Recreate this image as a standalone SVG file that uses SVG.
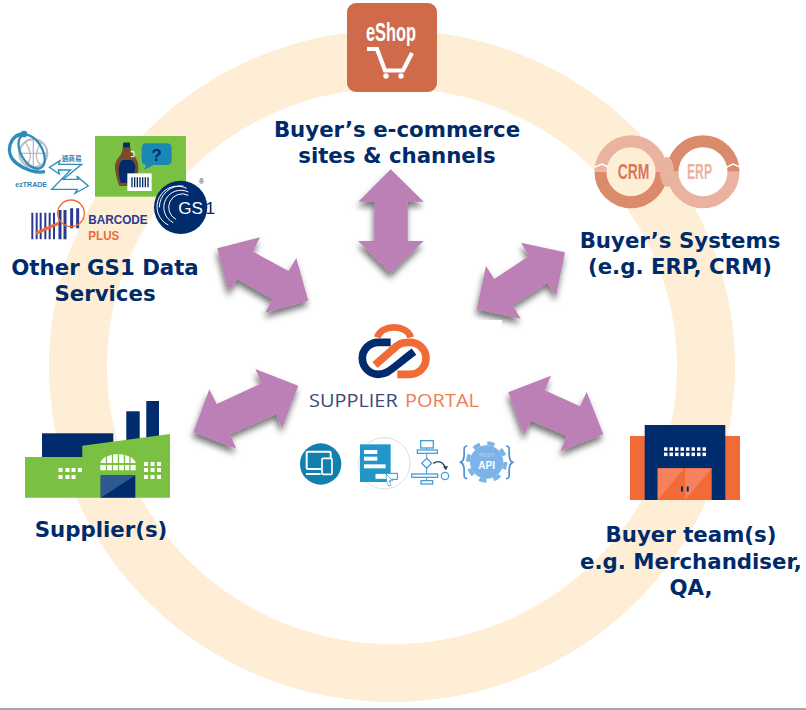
<svg xmlns="http://www.w3.org/2000/svg" width="806" height="710" viewBox="0 0 806 710">
<style>
.lbl{font-family:"DejaVu Sans",Verdana,sans-serif;font-weight:700;font-size:21.3px;fill:#002b6b;text-anchor:middle}
.arrow{fill:#bc7fb6;filter:url(#sh)}
.cond{font-family:"Liberation Sans Narrow","Liberation Sans",sans-serif;font-weight:700}
.sans{font-family:"Liberation Sans",Arial,sans-serif}
.portal{font-family:"Open Sans",sans-serif;font-weight:400;font-size:18px}
.w{fill:#fff}
.navy{fill:#002b6c}
.fl{fill:none;stroke:#4a9fd6;stroke-width:4}
</style>
<defs>
<filter id="sh" x="-30%" y="-30%" width="160%" height="160%"><feDropShadow dx="-1" dy="5" stdDeviation="3" flood-color="#000" flood-opacity=".55"/></filter>
</defs>
<rect width="806" height="710" fill="#fff"/>
<ellipse id="ring" cx="392" cy="366" rx="314" ry="307" fill="none" stroke="#ffeed6" stroke-width="58"/>
<g id="connectors">
<polygon class="arrow" points="390.7,169.3 423.7,201.7 407.7,201.7 407.7,241 423.7,241 390.7,273.3 358,241 374.3,241 374.3,201.7 358.3,201.7"/>
<polygon class="arrow" points="217.3,248.3 260,237.3 253,251.7 288.7,271 296.3,258 308.3,300.7 265.3,312.7 272.3,299.3 237.3,279 228.7,291.3"/>
<polygon class="arrow" points="565,252.3 521,242.7 529,256 494.3,279 486,266 476.7,309.3 520.7,318.7 512.7,305.3 547.3,283.3 556,296"/>
<polygon class="arrow" points="298.3,385.7 255.3,369 261.7,383.3 216.7,404 209.3,389.3 193.3,432.3 236.3,448.7 230,434.3 276,414.3 282,428.3"/>
<polygon class="arrow" points="508.3,392.3 551,375.7 544.7,390.3 580,406.3 586.7,392 603.3,434.3 560.3,451.3 567,436 530.7,420.7 524.3,435.3"/>
</g>
<g id="portal">
<rect x="312" y="320" width="190" height="62" fill="#fff"/>
<g transform="translate(290,310) scale(.33333)">
<path d="M262 82C272 42 352 42 362 82" fill="none" stroke="#f26a36" stroke-width="20"/>
<path d="M255 165L320 108C335 97 345 97 360 97A48 48 0 0 1 360 193L322 193" fill="none" stroke="#f26a36" stroke-width="23"/>
<path d="M302 97H265A48 48 0 0 0 265 193C295 193 305 175 372 125" fill="none" stroke="#002b6c" stroke-width="23"/>
</g>
<text x="309" y="407.3" class="portal" fill="#3a4a78" textLength="88.7" lengthAdjust="spacingAndGlyphs">SUPPLIER</text>
<text x="405" y="407.3" class="portal" fill="#ef7d55" textLength="74" lengthAdjust="spacingAndGlyphs">PORTAL</text>
<g transform="translate(290,310) scale(.33333)">
<circle cx="92" cy="462" r="62" fill="#1180ae"/>
<rect x="50" y="425" width="72" height="52" rx="4" fill="none" stroke="#fff" stroke-width="6"/>
<rect x="96" y="445" width="30" height="48" rx="3" fill="#1180ae" stroke="#fff" stroke-width="5"/>
<path d="M48 492H92" stroke="#fff" stroke-width="6"/>
<circle cx="283" cy="460" r="77" fill="#fff" stroke="#ddd" stroke-width="3"/>
<rect x="210" y="403" width="92" height="113" fill="#2196c9"/>
<rect x="222" y="420" width="40" height="12" class="w"/>
<rect x="222" y="440" width="40" height="12" class="w"/>
<rect x="222" y="463" width="65" height="12" class="w"/>
<rect x="255" y="490" width="67" height="18" fill="#fff" stroke="#2196c9" stroke-width="3"/>
<path d="M288 492L308 512L298 512L303 526L296 528L290 514Z" fill="#fff" stroke="#2196c9" stroke-width="2"/>
<path d="M410 414V512" stroke="#4a9fd6" stroke-width="3"/>
<rect x="392" y="392" width="38" height="22" fill="#fff" stroke="#4a9fd6" stroke-width="4"/>
<rect x="382" y="420" width="60" height="10" fill="#fff" stroke="#4a9fd6" stroke-width="4"/>
<polygon points="410,445 425,460 410,475 395,460" fill="#fff" stroke="#4a9fd6" stroke-width="4"/>
<rect x="365" y="492" width="78" height="10" fill="#fff" stroke="#4a9fd6" stroke-width="4"/>
<rect x="393" y="512" width="35" height="10" fill="#fff" stroke="#4a9fd6" stroke-width="4"/>
<path d="M430 460C445 450 460 455 467 476" fill="none" stroke="#2a3a50" stroke-width="4"/>
<path d="M459 470L468 481L474 468Z" fill="#2a3a50"/>
<circle cx="465" cy="498" r="11" class="fl"/>
<circle cx="590" cy="456" r="50" fill="#7db4e8"/>
<circle cx="590" cy="456" r="56" fill="none" stroke="#7db4e8" stroke-width="12" stroke-dasharray="22 22"/>
<text x="590" y="441" font-size="17" text-anchor="middle" fill="#a9cdf0" class="sans" font-weight="700">REST</text>
<text x="590" y="476" font-size="30" text-anchor="middle" fill="#fff" class="sans" font-weight="700">API</text>
<path d="M532 408C518 408 524 420 522 440C521 452 516 455 512 457C516 459 521 462 522 474C524 494 518 506 532 506M648 408C662 408 656 420 658 440C659 452 664 455 668 457C664 459 659 462 658 474C656 494 662 506 648 506" fill="none" stroke="#4a8fd6" stroke-width="5"/>
</g>
</g>
<g id="eshop">
<rect x="347" y="3" width="90" height="89" rx="9" fill="#cf6b4b"/>
<text x="366" y="41" class="cond" font-size="25" fill="#fff" textLength="50" lengthAdjust="spacingAndGlyphs">eShop</text>
<path d="M367 49H377L385 70.5H403L412 53" fill="none" stroke="#fff" stroke-width="4.2"/>
<circle cx="386" cy="76" r="2.7" class="w"/>
<circle cx="401" cy="76" r="2.7" class="w"/>
<text x="397" y="137" class="lbl">Buyer’s e-commerce</text>
<text x="397" y="163" class="lbl">sites &amp; channels</text>
</g>
<g id="systems">
<g fill="none" stroke-width="12">
<path d="M600.5 171.7A30.5 30.5 0 0 0 661.5 171.7" stroke="#dc8a6c"/>
<path d="M672.5 171.7A30.5 30.5 0 0 1 733.5 171.7" stroke="#dc8a6c"/>
<path d="M672.5 171.7A30.5 30.5 0 0 0 733.5 171.7" stroke="#e9b39f"/>
<path d="M600.5 171.7A30.5 30.5 0 0 1 661.5 171.7" stroke="#e9b39f"/>
</g>
<ellipse cx="667" cy="172" rx="7" ry="15" fill="#e9b39f"/>
<path d="M595 167L602 164L608 167M727 167L733 164L740 167" fill="none" stroke="#fff" stroke-width="1.5"/>
<text x="617.7" y="179.3" class="cond" font-size="22" fill="#d9775a" textLength="31.6" lengthAdjust="spacingAndGlyphs">CRM</text>
<text x="687" y="179.3" class="cond" font-size="22" fill="#e9b39f" textLength="25" lengthAdjust="spacingAndGlyphs">ERP</text>
<text x="680" y="248" class="lbl">Buyer’s Systems</text>
<text x="680" y="274" class="lbl">(e.g. ERP, CRM)</text>
</g>
<g id="gs1-services">
<g transform="translate(0,110) scale(.33333)">
<circle cx="100" cy="130" r="42" fill="none" stroke="#b8bcc4" stroke-width="6"/>
<path d="M60 130H140M100 88V172M75 95C95 125 95 150 78 165M125 95C105 125 105 150 122 165" fill="none" stroke="#b8bcc4" stroke-width="4"/>
<ellipse cx="95" cy="125" rx="32" ry="56" transform="rotate(-30 95 125)" fill="none" stroke="#2f8dbd" stroke-width="7"/>
<path d="M72 72C30 70 10 130 50 160C75 180 110 190 135 185" fill="none" stroke="#2f8dbd" stroke-width="10"/>
<circle cx="72" cy="72" r="10" fill="#2f8dbd"/>
<path d="M148 172L180 152L176 163L245 163L190 208L235 208L230 198L265 228L225 250L232 238L155 238L212 180L175 180L178 192Z" fill="#fff" stroke="#2f8dbd" stroke-width="4"/>
<text x="46" y="232" font-size="24" font-weight="700" fill="#2f7fae" class="sans" textLength="95" lengthAdjust="spacingAndGlyphs">ezTRADE</text>
<text x="185" y="153" font-size="20" font-weight="700" fill="#2f7fae" style="font-family:'Noto Sans CJK TC',sans-serif" textLength="60" lengthAdjust="spacingAndGlyphs">通商易</text>
<rect x="285" y="78" width="273" height="182" fill="#7ac143"/>
<path d="M425 115Q425 100 440 100H500Q515 100 515 115V150Q515 165 500 165H460L432 180L438 165Q425 162 425 150Z" fill="#1b87b5"/>
<text x="470" y="152" font-size="50" font-weight="700" text-anchor="middle" fill="#002b6c" class="sans">?</text>
<path d="M370 98H390V112H392V125C412 145 418 160 414 190L408 228H358C348 200 338 165 352 148C362 135 368 128 368 112Z" fill="#7a4a2a"/>
<path d="M368 150C355 160 352 180 362 218H400L406 170C404 160 398 150 392 150Z" fill="#002b6c"/>
<rect x="370" y="98" width="20" height="14" fill="#002b6c"/>
<path d="M392 125H402V140H392" fill="none" stroke="#fff" stroke-width="3"/>
<rect x="382" y="190" width="73" height="53" fill="#fff"/>
<path d="M396 202V232M404 202V232M412 202V232M420 202V232M428 202V232M436 202V232M444 202V232" stroke="#002b6c" stroke-width="4"/>
<circle cx="542" cy="292" r="80" fill="#002c6c"/>
<g fill="none" stroke="#fff" stroke-width="3">
<path d="M560 235A60 60 0 0 0 505 345"/>
<path d="M565 246A50 50 0 0 0 520 338"/>
<path d="M565 256A40 40 0 0 0 528 328"/>
<path d="M478 292A65 65 0 0 1 550 228"/>
</g>
<text x="535" y="312" font-size="51" fill="#fff" class="sans" textLength="74" lengthAdjust="spacingAndGlyphs">GS</text>
<text x="616" y="312" font-size="51" fill="#002c6c" class="sans" textLength="30" lengthAdjust="spacingAndGlyphs">1</text>
<text x="597" y="222" font-size="20" fill="#002c6c" class="sans">®</text>
<path d="M97 308V388M110 308V388M122 308V388M136 308V388M149 308V388M162 308V388" stroke="#2b3990" stroke-width="6"/>
<path d="M180 300V388M195 300V388M215 295V355M233 295V355" stroke="#2b3990" stroke-width="9"/>
<circle cx="213" cy="310" r="40" fill="none" stroke="#f0693a" stroke-width="4"/>
<path d="M175 340L108 370" stroke="#f0693a" stroke-width="9"/>
<text x="265" y="342" font-size="40" fill="#2b3990" class="cond" textLength="178" lengthAdjust="spacingAndGlyphs">BARCODE</text>
<text x="265" y="390" font-size="40" fill="#f0693a" class="cond" textLength="93" lengthAdjust="spacingAndGlyphs">PLUS</text>
</g>
<text x="105" y="275" class="lbl">Other GS1 Data</text>
<text x="105" y="301" class="lbl">Services</text>
</g>
<g id="supplier">
<rect x="126.3" y="411.3" width="13.4" height="30" class="navy"/>
<rect x="146.3" y="401" width="12.7" height="37" class="navy"/>
<rect x="42" y="433.3" width="71.3" height="24" class="navy"/>
<polygon points="25,457 82.3,457 82.3,445.7 170,434 170,497.7 25,497.7" fill="#7ac143"/>
<rect x="100.7" y="475.3" width="34.6" height="22.4" class="navy"/>
<polygon points="100.7,475.3 135.3,475.3 100.7,497.7" fill="#2f5a90"/>
<path d="M100.3 463A18 11 0 0 1 135.7 463Z" class="w"/>
<rect x="100.3" y="465" width="35.4" height="5.3" class="w"/>
<path d="M106.5 451V471M112.5 451V471M118.5 451V471M124.5 451V471M130 451V471" stroke="#7ac143" stroke-width="1.3"/>
<g class="w">
<rect x="58.5" y="468" width="4" height="4"/><rect x="65.5" y="468" width="4" height="4"/><rect x="71.5" y="468" width="4" height="4"/><rect x="78" y="468" width="4" height="4"/>
<rect x="58.5" y="475" width="4" height="4"/><rect x="65.5" y="475" width="4" height="4"/><rect x="71.5" y="475" width="4" height="4"/>
<rect x="144" y="462" width="4" height="4"/><rect x="150.5" y="462" width="4" height="4"/><rect x="157" y="462" width="4" height="4"/>
<rect x="144" y="468" width="4" height="4"/><rect x="150.5" y="468" width="4" height="4"/><rect x="157" y="468" width="4" height="4"/>
<rect x="144" y="475" width="4" height="4"/><rect x="150.5" y="475" width="4" height="4"/><rect x="157" y="475" width="4" height="4"/>
</g>
<text x="101" y="537" class="lbl">Supplier(s)</text>
</g>
<g id="buyer-team">
<rect x="630" y="436" width="110" height="64" fill="#f26a36"/>
<rect x="644.7" y="425" width="80.6" height="75" class="navy"/>
<rect x="657.7" y="468.3" width="54" height="31.7" fill="#f26a36"/>
<polygon points="657.7,468.3 684.3,468.3 657.7,500" fill="#f5825c"/>
<polygon points="685,468.3 711.7,468.3 685,500" fill="#f5825c"/>
<rect x="681" y="486.5" width="2" height="5" class="navy"/>
<rect x="686.7" y="486.5" width="2" height="5" class="navy"/>
<g class="w">
<rect x="664" y="447.3" width="3.5" height="3.5"/><rect x="669.5" y="447.3" width="3.5" height="3.5"/><rect x="675" y="447.3" width="3.5" height="3.5"/><rect x="680.5" y="447.3" width="3.5" height="3.5"/><rect x="686" y="447.3" width="3.5" height="3.5"/><rect x="691.5" y="447.3" width="3.5" height="3.5"/><rect x="697" y="447.3" width="3.5" height="3.5"/><rect x="702.5" y="447.3" width="3.5" height="3.5"/>
<rect x="664" y="452.6" width="3.5" height="3.5"/><rect x="669.5" y="452.6" width="3.5" height="3.5"/><rect x="675" y="452.6" width="3.5" height="3.5"/><rect x="680.5" y="452.6" width="3.5" height="3.5"/><rect x="686" y="452.6" width="3.5" height="3.5"/><rect x="691.5" y="452.6" width="3.5" height="3.5"/><rect x="697" y="452.6" width="3.5" height="3.5"/><rect x="702.5" y="452.6" width="3.5" height="3.5"/>
</g>
<text x="691" y="542" class="lbl">Buyer team(s)</text>
<text x="691" y="569" class="lbl">e.g. Merchandiser,</text>
<text x="691" y="595" class="lbl">QA,</text>
</g>
<rect id="edge" x="0" y="708" width="806" height="2" fill="#a6a6a6"/>
</svg>
